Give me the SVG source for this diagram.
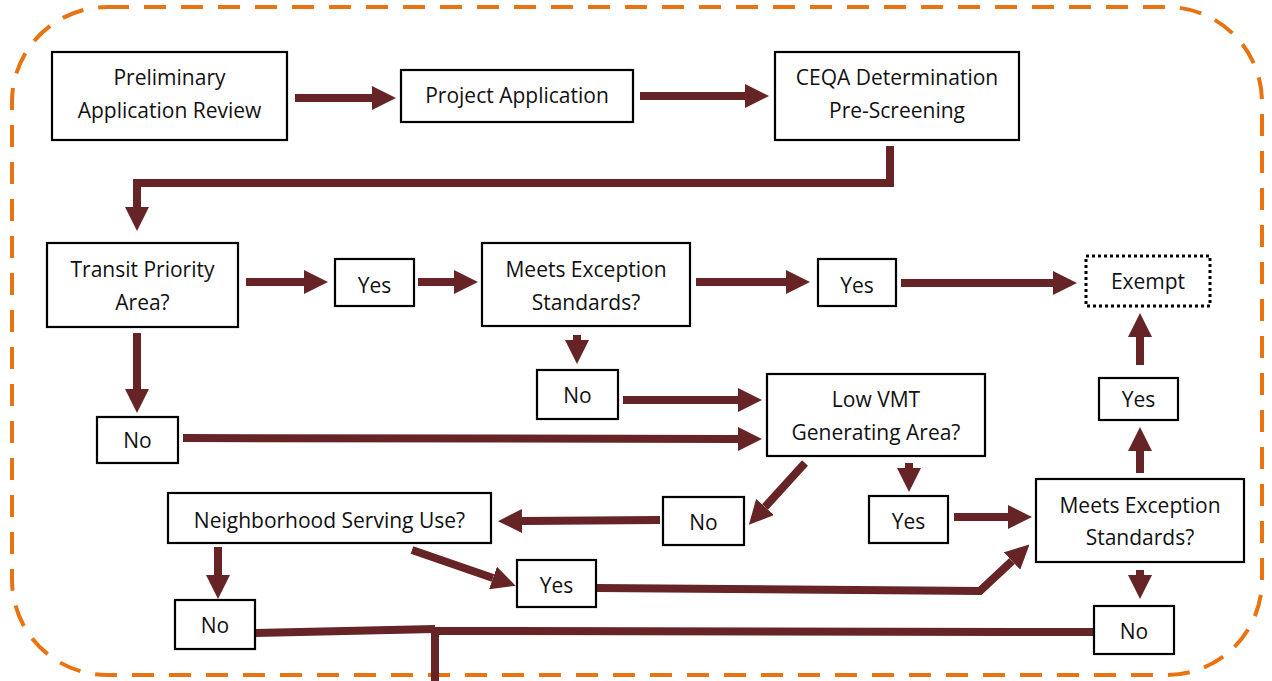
<svg xmlns="http://www.w3.org/2000/svg" width="1272" height="681" viewBox="0 0 1272 681">
<defs>
<marker id="ah" viewBox="0 0 3 3" refX="0" refY="1.5" markerWidth="3" markerHeight="3" orient="auto" markerUnits="strokeWidth">
<path d="M0,0 L3,1.5 L0,3 z" fill="#662426"/>
</marker>
</defs>
<style>
.box{fill:#fff;stroke:#000;stroke-width:2.2}
.dot{fill:#fff;stroke:#000;stroke-width:3;stroke-dasharray:3 3}
.t{font-family:"Open Sans","Liberation Sans",sans-serif;font-size:21px;fill:#111;text-anchor:middle}
.c{fill:none;stroke:#662426;stroke-width:8;stroke-linejoin:miter}
.a{fill:none;stroke:#662426;stroke-width:8;marker-end:url(#ah)}
</style>
<rect x="12" y="7" width="1250" height="668" rx="95" ry="95" fill="none" stroke="#E97310" stroke-width="4" stroke-dasharray="22 15"/>
<g id="connectors">
<path class="a" d="M295,98 H372"/>
<path class="a" d="M640,96 H745"/>
<path class="a" d="M890,146 V183 H137 V207"/>
<path class="a" d="M246,282 H304"/>
<path class="a" d="M418,282 H454"/>
<path class="a" d="M696,282 H786"/>
<path class="a" d="M901,283 H1053"/>
<path class="a" d="M1140,365 V337"/>
<path class="a" d="M137,333 V389"/>
<path class="a" d="M183,438 L738,439"/>
<path class="a" d="M577,335 V340"/>
<path class="a" d="M623,400 H738"/>
<path class="a" d="M805,463 L765,507"/>
<path class="a" d="M909,463 V468"/>
<path class="a" d="M954,517 H1008"/>
<path class="a" d="M1140,473 V451"/>
<path class="a" d="M1140,570 V575"/>
<path class="a" d="M660,520 L522,521"/>
<path class="a" d="M218,547 V575"/>
<path class="a" d="M412,550 L493,578"/>
<path class="a" d="M597,588 L980,591 L1012,561"/>
<path class="c" d="M255,633 L435,629"/>
<path class="c" d="M435,631 L1094,632"/>
<path class="c" d="M435,629 V681"/>
</g>
<g id="n-prelim"><rect class="box" x="52" y="52" width="235" height="88"/><text class="t" x="169.5" y="85">Preliminary</text><text class="t" x="169.5" y="118">Application Review</text></g>
<g id="n-project"><rect class="box" x="401" y="70" width="232" height="52"/><text class="t" x="517" y="103">Project Application</text></g>
<g id="n-ceqa"><rect class="box" x="775" y="52" width="244" height="88"/><text class="t" x="897" y="85">CEQA Determination</text><text class="t" x="897" y="118">Pre-Screening</text></g>
<g id="n-tpa"><rect class="box" x="47" y="243" width="191" height="84"/><text class="t" x="142.5" y="277">Transit Priority</text><text class="t" x="142.5" y="310">Area?</text></g>
<g id="n-yes1"><rect class="box" x="335" y="259" width="79" height="47"/><text class="t" x="374.5" y="293">Yes</text></g>
<g id="n-mes1"><rect class="box" x="482" y="243" width="208" height="83"/><text class="t" x="586" y="277">Meets Exception</text><text class="t" x="586" y="310">Standards?</text></g>
<g id="n-yes2"><rect class="box" x="818" y="259" width="78" height="47"/><text class="t" x="857" y="293">Yes</text></g>
<g id="n-exempt"><rect class="dot" x="1086" y="256" width="124" height="50"/><text class="t" x="1148" y="289">Exempt</text></g>
<g id="n-no1"><rect class="box" x="97" y="417" width="81" height="46"/><text class="t" x="137.5" y="448">No</text></g>
<g id="n-no2"><rect class="box" x="537" y="370" width="81" height="49"/><text class="t" x="577.5" y="403">No</text></g>
<g id="n-lowvmt"><rect class="box" x="767" y="374" width="218" height="82"/><text class="t" x="876" y="407">Low VMT</text><text class="t" x="876" y="440">Generating Area?</text></g>
<g id="n-yes3"><rect class="box" x="1099" y="378" width="79" height="42"/><text class="t" x="1138.5" y="407">Yes</text></g>
<g id="n-no3"><rect class="box" x="663" y="497" width="81" height="48"/><text class="t" x="703.5" y="530">No</text></g>
<g id="n-yes4"><rect class="box" x="869" y="496" width="79" height="47"/><text class="t" x="908.5" y="529">Yes</text></g>
<g id="n-mes2"><rect class="box" x="1036" y="479" width="208" height="83"/><text class="t" x="1140" y="513">Meets Exception</text><text class="t" x="1140" y="545">Standards?</text></g>
<g id="n-neigh"><rect class="box" x="168" y="493" width="323" height="50"/><text class="t" x="329.5" y="528">Neighborhood Serving Use?</text></g>
<g id="n-yes5"><rect class="box" x="517" y="560" width="79" height="47"/><text class="t" x="556.5" y="593">Yes</text></g>
<g id="n-no5"><rect class="box" x="175" y="600" width="80" height="49"/><text class="t" x="215" y="633">No</text></g>
<g id="n-no4"><rect class="box" x="1094" y="606" width="80" height="48"/><text class="t" x="1134" y="639">No</text></g>
</svg>
